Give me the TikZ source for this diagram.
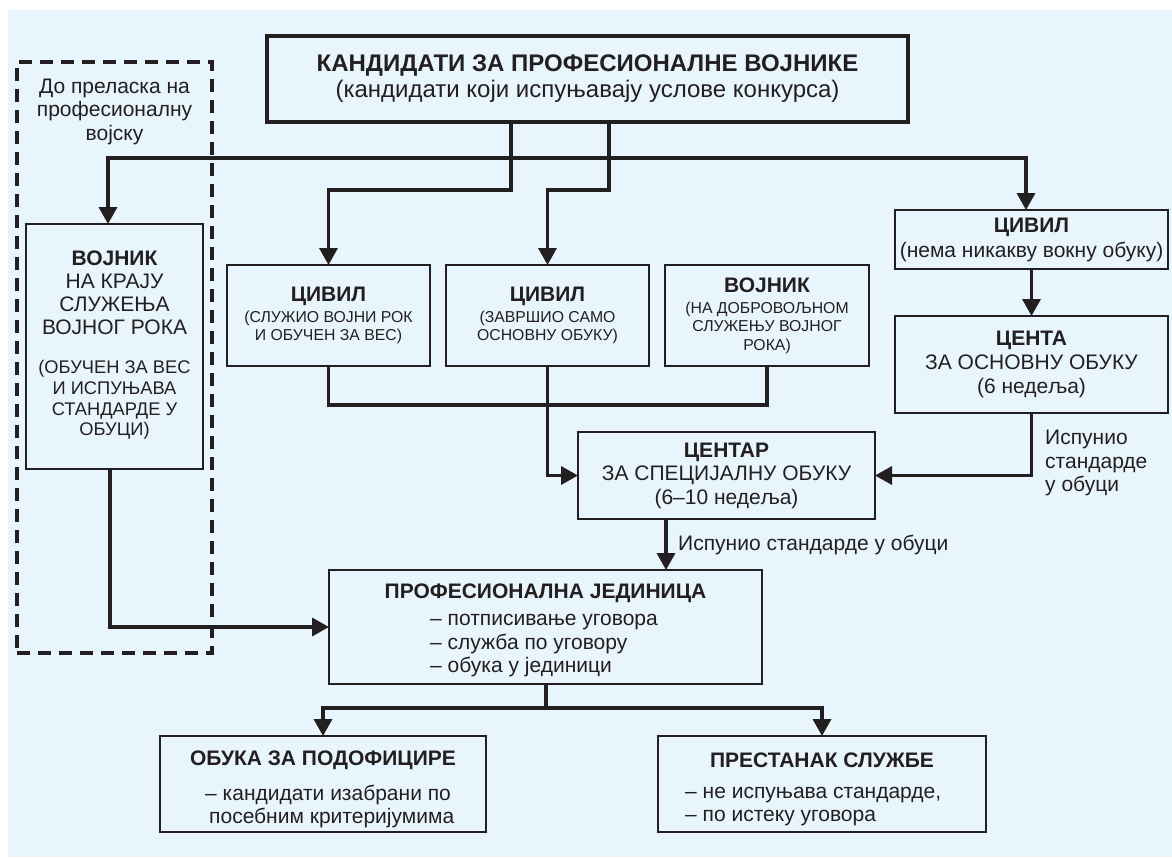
\documentclass[tikz,border=0pt]{standalone}
\usepackage{fontspec}
\setmainfont{Liberation Sans}
\usetikzlibrary{arrows.meta}
\definecolor{bg}{HTML}{E8F5FC}
\definecolor{ink}{HTML}{231F20}
\tikzset{
  conn/.style={draw=ink, line width=3.5pt, line join=miter, -{Triangle[length=17pt,width=18pt]}},
  plain/.style={draw=ink, line width=3.5pt, line join=miter},
  box/.style={draw=ink, line width=1.6pt, inner sep=0pt, outer sep=0pt, text=ink, align=center},
  bigbox/.style={box, line width=3.5pt},
  dbox/.style={draw=ink, line width=3.2pt, dash pattern=on 13pt off 8pt, inner sep=0pt},
  txt/.style={inner sep=0pt, text=ink},
  fN/.style={font=\fontsize{21}{23.5}\selectfont},
  fS/.style={font=\fontsize{15.8}{18.5}\selectfont},
  fB/.style={font=\fontsize{21}{23.5}\selectfont\bfseries},
}
\newcommand{\ttl}[1]{{\fontsize{21}{21}\selectfont\bfseries #1}}
\begin{document}
\begin{tikzpicture}[x=1pt,y=-1pt]
\useasboundingbox (0,0) rectangle (1172,857);
\fill[bg] (8,10) rectangle (1172,857);

% dashed group
\node[dbox, minimum width=195pt, minimum height=591pt] (grp) at (114.5,357.5) {};
\node[txt, fN, align=center] (grpt) at (114.5,111.5) {До преласка на\\професионалну\\војску};

% top box
\node[bigbox, minimum width=641pt, minimum height=86pt, font=\fontsize{24}{26}\selectfont] (top) at (587.5,79)
  {\textbf{КАНДИДАТИ ЗА ПРОФЕСИОНАЛНЕ ВОЈНИКЕ}\\(кандидати који испуњавају услове конкурса)};

% left soldier box
\node[box, minimum width=177pt, minimum height=245pt] (vojL) at (114.5,346.5) {};
\node[txt, align=center, font=\fontsize{21}{23}\selectfont] (vojLa) at (114.5,293)
  {\ttl{ВОЈНИК}\\НА КРАЈУ\\СЛУЖЕЊА\\ВОЈНОГ РОКА};
\node[txt, align=center, font=\fontsize{18.3}{20.8}\selectfont] (vojLb) at (114.5,400)
  {(ОБУЧЕН ЗА ВЕС\\И ИСПУЊАВА\\СТАНДАРДЕ У\\ОБУЦИ)};

% middle row
\node[box, fS, minimum width=203pt, minimum height=101pt] (civ1) at (328.5,315.5)
  {\ttl{ЦИВИЛ}\\[2.5pt](СЛУЖИО ВОЈНИ РОК\\И ОБУЧЕН ЗА ВЕС)};
\node[box, fS, minimum width=203pt, minimum height=101pt] (civ2) at (547.5,315.5)
  {\ttl{ЦИВИЛ}\\[2.5pt](ЗАВРШИО САМО\\ОСНОВНУ ОБУКУ)};
\node[box, fS, minimum width=204pt, minimum height=101pt] (vojn2) at (767,315.5)
  {\ttl{ВОЈНИК}\\[2.5pt](НА ДОБРОВОЉНОМ\\СЛУЖЕЊУ ВОЈНОГ\\РОКА)};

% right column
\node[box, font=\fontsize{21}{25}\selectfont, minimum width=273pt, minimum height=59pt] (civR) at (1031.5,239.5)
  {\textbf{ЦИВИЛ}\\(нема никакву вокну обуку)};
\node[box, font=\fontsize{21}{24}\selectfont, minimum width=273pt, minimum height=97pt] (centa) at (1031.5,364.5)
  {\textbf{ЦЕНТА}\\ЗА ОСНОВНУ ОБУКУ\\(6 недеља)};
\node[txt, fN, align=left, anchor=west] (lblR) at (1045,463) {Испунио\\стандарде\\у обуци};

% special training centre
\node[box, fN, minimum width=297pt, minimum height=87pt] (centar) at (726.5,475.5)
  {\textbf{ЦЕНТАР}\\ЗА СПЕЦИЈАЛНУ ОБУКУ\\(6–10 недеља)};
\node[txt, fN, anchor=west] (lblC) at (678,545) {Испунио стандарде у обуци};

% professional unit
\node[box, minimum width=433pt, minimum height=114pt] (prof) at (545.5,627) {};
\node[txt, fB] (proft) at (545.5,593) {ПРОФЕСИОНАЛНА ЈЕДИНИЦА};
\node[txt, fN, align=left, anchor=west] (profl) at (430,646)
  {– потписивање уговора\\– служба по уговору\\– обука у јединици};

% bottom boxes
\node[box, minimum width=326pt, minimum height=96pt] (obuka) at (323,784) {};
\node[txt, fB] (obukat) at (323,760) {ОБУКА ЗА ПОДОФИЦИРЕ};
\node[txt, fN, align=left, anchor=west] (obukal) at (205,806.5)
  {– кандидати изабрани по\\\hspace*{4pt}посебним критеријумима};
\node[box, minimum width=328pt, minimum height=96pt] (prest) at (822,784) {};
\node[txt, fB] (prestt) at (822,760) {ПРЕСТАНАК СЛУЖБЕ};
\node[txt, fN, align=left, anchor=west] (prestl) at (685,806.5)
  {– не испуњава стандарде,\\– по истеку уговора};

% helper coordinates
\coordinate (kA) at (511,190);
\coordinate (kB) at (609,190);
\coordinate (j) at (511,158);
\coordinate (xl) at (108,0);
\coordinate (xr) at (1026,0);
\coordinate (xl2) at (110,0);
\coordinate (m) at (500,405);
\coordinate (xc) at (666,0);
\coordinate (jp) at (546,708);

% connectors
\draw[conn] (top.south -| kA) -- (kA) -| (civ1.north);
\draw[conn] (top.south -| kB) -- (kB) -| (civ2.north);
\draw[conn] (j) -| (vojL.north -| xl);
\draw[conn] (j) -| (civR.north -| xr);
\draw[conn] (civR.south) -- (centa.north);
\draw[conn] (centa.south) |- (centar.east);
\draw[plain] (civ1.south) |- (m) -| (vojn2.south);
\draw[conn] (civ2.south) |- (centar.west);
\draw[conn] (centar.south -| xc) -- (prof.north -| xc);
\draw[conn] (vojL.south -| xl2) |- (prof.west);
\draw[plain] (prof.south -| jp) -- (jp);
\draw[conn] (jp) -| (obuka.north);
\draw[conn] (jp) -| (prest.north);
\end{tikzpicture}
\end{document}
